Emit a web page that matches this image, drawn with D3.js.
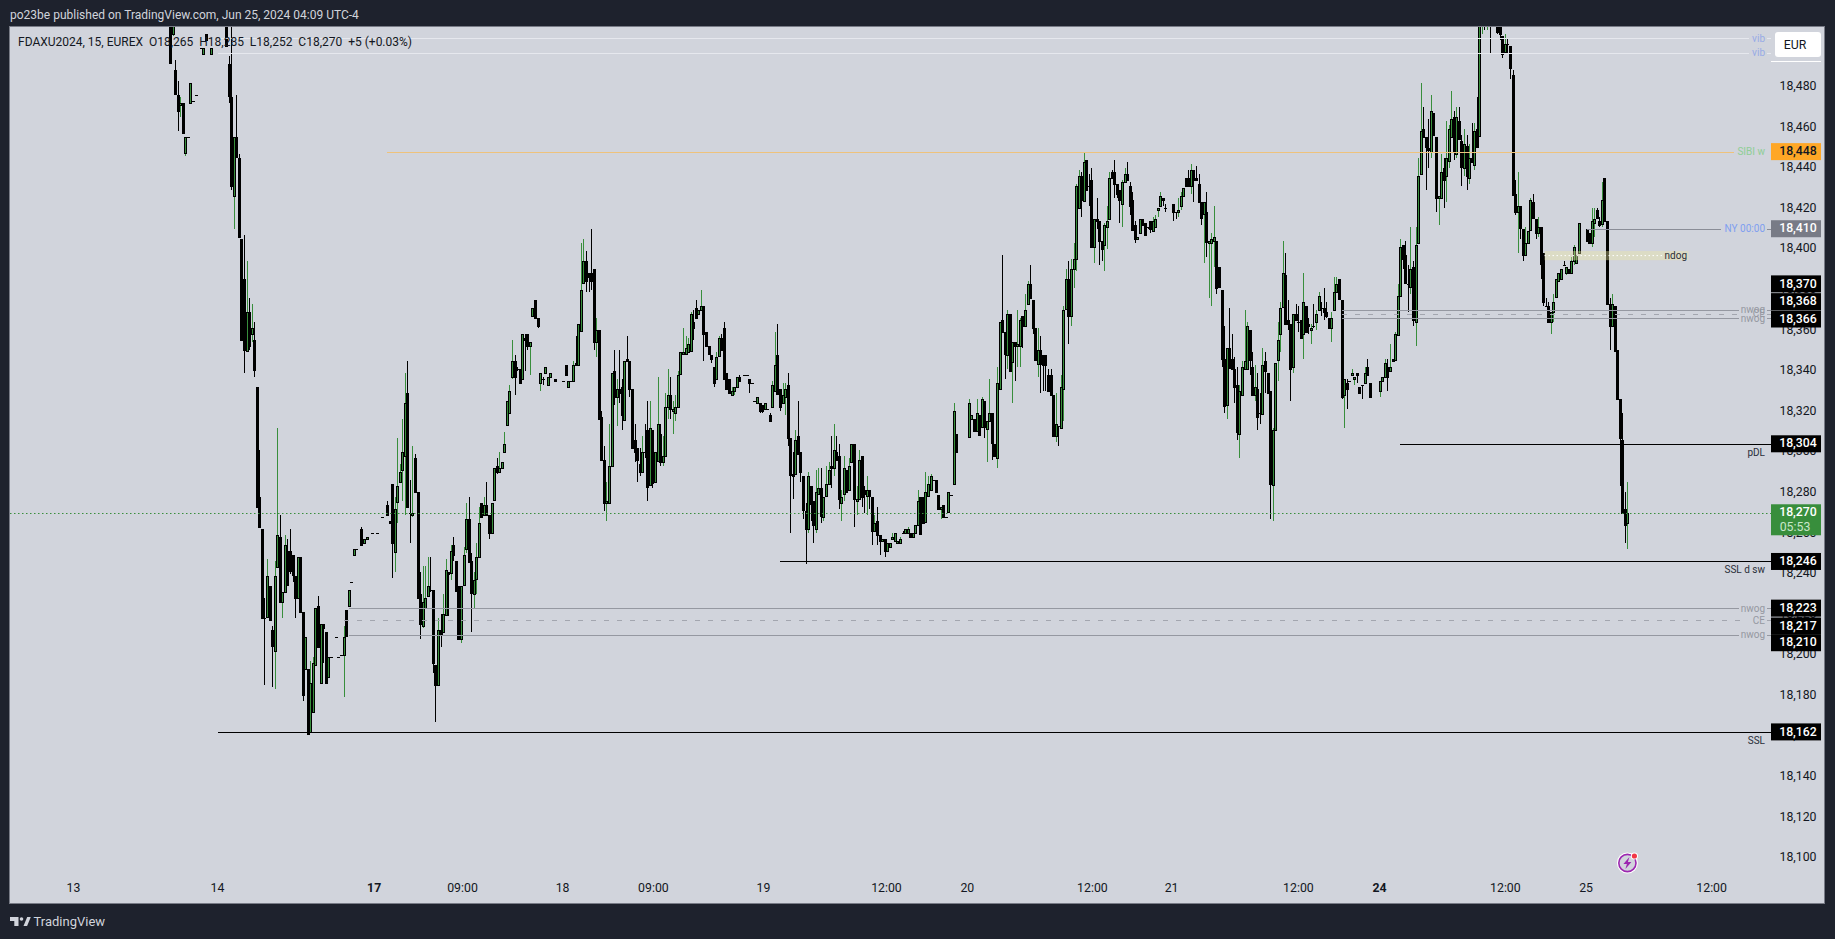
<!DOCTYPE html>
<html>
<head>
<meta charset="utf-8">
<script src="https://cdn.jsdelivr.net/npm/d3@7"></script>
<style>
html,body{margin:0;padding:0;background:#1e222d;overflow:hidden}
svg{display:block}
text{font-family:Roboto,"Liberation Sans",sans-serif}
</style>
</head>
<body>
<script>
// candle values: [open, high, low, close] minus priceBase; null = no trades in that 15 minute slot
const priceBase = 18000;
const jun13 = [[515,520,492,492],[506,520,505,515],[488,493,476,476],[476,483,458,468],[471,475,465,472],[472,472,457,457],[447,455,446,455],[455,455,455,455],[472,482,472,482],[473,473,473,473],[476,476,476,476],null,[499,499,499,499],[496,499,496,499],[506,506,503,503],null,[496,499,496,499]];
const jun14 = [[515,520,500,500],[491,495,472,475],[475,515,429,431],[426,455,410,455],[455,476,445,445],[445,447,406,406],[405,405,355,355],[385,407,339,350],[350,394,350,369],[369,376,350,352],[358,373,354,361],[355,364,337,340],[332,332,273,273],[278,301,263,263],[262,262,218,218],[218,228,185,218],[219,247,219,239],[234,234,217,217],[212,214,184,204],[202,246,183,239],[243,312,243,259],[258,269,226,226],[226,231,218,231],[231,259,231,254],[251,257,234,234],[251,262,240,241],[249,249,236,239],[239,239,218,228],[228,248,228,248],[248,248,221,221],[221,221,177,180],[193,209,193,209],[193,193,161,161],[162,197,162,186],[172,199,172,196],[195,223,195,223],[224,229,204,204],[186,215,186,215],[215,215,196,213],[211,211,186,186],[189,199,189,199],[199,199,199,199],null,[209,209,209,209],[199,199,199,199],[200,200,200,200],[200,214,179,209],[222,222,209,209],[224,232,224,232],[236,236,236,236],[249,252,249,252],[252,252,252,252],null,[262,263,254,254],[255,257,255,257],[257,258,257,258],null,[260,260,260,260]];
const jun17 = [[260,260,260,260],null,[268,268,268,268],null,[274,276,269,269],[266,266,265,265],[284,284,238,255],[251,278,241,272],[275,307,265,283],[285,294,285,290],[291,316,276,300],[298,339,269,324],[329,345,273,273],[270,286,255,270],[269,303,268,270],[297,299,280,280],[280,280,228,228],[230,241,208,215],[214,244,213,226],[223,244,223,228],[229,248,229,234],[232,248,231,232],[232,232,191,196],[195,195,167,185],[185,218,185,212],[212,220,204,210],[211,230,211,220],[220,247,220,242],[241,241,219,240],[240,254,237,251],[254,258,246,249],[246,246,231,231],[234,234,208,208],[208,234,206,234],[234,253,234,249],[252,275,250,267],[267,278,246,246],[246,250,211,230],[230,241,223,237],[237,255,230,248],[248,273,248,265],[275,275,268,268],[269,278,269,274],[274,285,269,269],[269,269,257,260],[260,275,260,275],[276,292,276,292],[293,297,289,290],[290,300,290,292],[292,295,292,295],[300,310,300,304],[313,325,313,325],[319,333,319,330],[337,355,336,345],[345,348,328,337],[341,342,340,341],[341,341,334,334],[336,358,336,358],[356,358,340,355],[358,358,350,352],[352,354,338,354],[367,371,367,371],[375,375,366,366],[366,366,361,362],[334,339,330,339],[336,337,333,336],[339,342,339,342],[333,337,333,337],[337,339,337,339],null,[336,336,335,335]];
const jun18 = [[335,335,335,335],[343,343,338,338],[332,335,332,335],[335,335,335,335],[335,345,335,343],[344,357,343,343],[343,363,343,363],[360,403,360,380],[383,405,383,394],[394,399,379,384],[388,388,379,386],[388,410,380,384],[390,390,350,354],[354,366,347,360],[360,360,316,316],[317,320,296,296],[296,303,271,275],[275,285,266,276],[275,314,275,293],[293,339,293,339],[340,350,323,327],[327,336,313,331],[331,350,324,329],[332,336,311,318],[316,345,316,345],[346,357,345,345],[345,345,327,331],[331,331,302,302],[306,314,295,300],[302,302,285,296],[294,302,288,290],[290,308,290,300],[300,314,297,300],[311,325,276,283],[284,325,284,312],[311,311,282,285],[285,300,285,300],[296,337,296,314],[309,314,293,295],[295,308,293,298],[298,329,298,322],[322,341,316,328],[328,337,316,321],[320,325,309,321],[319,328,315,322],[322,340,322,338],[338,349,338,349],[348,361,348,349],[348,357,348,351],[349,356,349,353],[350,369,350,368],[364,370,355,361],[371,375,366,366],[368,370,368,370],[370,380,370,372],[372,372,345,358],[359,359,352,352],[352,352,348,348],[348,348,344,346],[342,342,332,334],[336,349,336,347],[347,357,347,356],[356,358,350,350],[361,364,336,336],[339,339,331,331],[336,336,329,329],[328,332,328,330],[330,332,328,332],[332,337,332,337],[337,338,335,335],null,[338,338,338,338],[338,338,338,338],[336,336,329,334],[334,334,334,334],[325,325,325,325],[324,327,324,327],[324,324,319,320],[323,323,319,320]];
const jun19 = [[321,324,321,324],[321,321,321,321],[318,319,315,315],[322,335,322,333],[330,359,330,343],[348,363,329,329],[331,331,320,322],[324,334,324,328],[327,334,318,331],[333,339,303,307],[307,307,260,289],[289,300,277,288],[289,311,289,306],[308,325,299,299],[300,300,285,290],[288,288,267,271],[271,275,245,262],[262,290,260,288],[283,283,266,274],[276,276,255,264],[262,291,260,280],[279,292,279,282],[282,292,265,268],[268,278,266,278],[278,293,278,284],[284,295,284,291],[293,308,282,292],[292,314,288,301],[300,308,296,296],[298,304,272,277],[275,281,266,278],[279,298,276,292],[291,291,280,280],[281,297,281,293],[295,304,295,304],[304,304,263,277],[276,283,269,277],[277,301,277,296],[298,298,273,278],[281,283,270,279],[278,288,269,281],[281,281,272,278],[278,278,254,261],[261,269,261,265],[266,273,254,259],[259,259,249,256],[256,257,256,257],[257,257,248,251],[251,255,251,255],[253,255,253,255],[257,260,257,258],[256,260,256,260],[255,256,255,256],[255,258,255,257],[260,261,260,260],[260,262,260,262],[260,263,260,262],[260,260,258,258],[258,260,258,260],[260,264,260,264],[264,281,264,276],[278,278,260,260],[278,278,265,265],[265,290,265,280],[278,288,278,284],[281,289,281,288],[286,286,286,286],[286,286,280,280],[279,279,272,272],[272,273,267,273],[274,274,268,268],[268,268,268,268],[270,280,270,280],[279,279,279,279],[284,324,284,320],[309,309,300,300]];
const jun20 = [[307,326,307,324],[316,318,316,318],[316,316,310,310],[310,326,310,319],[318,318,308,308],[312,327,312,326],[325,325,307,312],[311,315,295,315],[315,336,315,319],[319,319,296,304],[304,304,298,298],[297,342,292,334],[331,364,331,364],[365,397,359,359],[359,359,336,348],[348,370,341,368],[368,368,340,340],[344,354,324,354],[354,354,335,352],[352,370,342,353],[352,366,342,365],[367,367,351,362],[362,378,362,370],[373,384,373,383],[383,392,376,376],[375,375,358,361],[361,361,345,345],[343,361,337,350],[350,357,329,343],[348,348,330,343],[348,348,330,343],[338,341,330,330],[338,341,328,328],[328,328,308,308],[308,329,305,314],[313,313,303,313],[312,338,312,332],[331,372,315,370],[370,390,370,385],[385,394,353,367],[367,395,362,390],[390,403,381,395],[395,432,389,431],[420,439,420,436],[436,438,416,424],[424,448,424,443],[444,444,429,429],[431,437,421,431],[434,440,401,401],[401,415,393,415],[415,425,410,414],[414,414,392,404],[404,404,394,400],[402,413,389,412],[411,421,400,414],[415,438,415,435],[438,439,435,435],[438,444,425,432],[432,432,425,427],[429,429,413,424],[422,434,411,433],[433,440,433,437],[437,443,434,434],[431,433,417,421],[424,428,409,409],[412,414,403,405],[405,406,405,406],[408,415,408,415],[415,415,412,412],[413,413,407,407],[411,411,410,411],[414,414,408,410],[409,416,409,414],[411,417,411,415],[419,420,416,420],[421,428,421,426],[425,425,421,424],[420,422,418,420]];
const jun21 = [[422,422,414,418],[418,418,415,418],[418,425,416,419],[421,428,419,426],[426,430,426,430],[435,435,431,431],[435,439,431,431],[431,442,427,439],[439,439,423,434],[435,441,434,434],[432,437,423,423],[423,423,412,415],[417,423,393,423],[418,428,396,403],[403,404,376,404],[403,408,372,405],[404,421,391,406],[404,404,378,381],[391,391,381,381],[380,380,342,346],[346,362,319,323],[323,351,316,351],[351,371,341,341],[346,358,341,341],[341,347,324,332],[333,342,306,310],[309,333,297,330],[328,345,328,342],[341,370,341,345],[341,364,341,362],[360,360,338,345],[342,349,328,328],[328,343,325,332],[331,339,311,317],[319,329,314,319],[319,351,319,343],[345,349,329,340],[339,339,329,329],[330,330,267,284],[284,312,266,311],[311,344,311,344],[345,364,335,355],[358,374,349,371],[371,404,371,388],[387,398,363,363],[365,375,360,363],[363,363,325,341],[342,368,339,368],[368,373,365,365],[364,372,359,364],[365,365,356,356],[358,388,346,374],[372,372,359,359],[363,366,358,362],[360,363,353,361],[362,373,361,362],[364,370,360,368],[370,379,370,377],[371,374,367,371],[371,381,365,369],[369,374,366,367],[366,366,361,361],[361,369,354,366],[370,386,370,379],[379,386,379,383],[385,385,375,375],[375,375,326,327],[328,336,312,336],[334,336,321,331],[335,335,335,335],[338,341,338,339],[336,337,333,337],[339,339,334,338],[332,332,329,329],[333,333,326,333],[334,342,334,339],[342,346,338,338],[334,334,327,327]];
const jun24 = [[330,335,327,335],[335,337,335,337],[337,346,337,344],[342,346,330,337],[340,353,340,342],[346,346,345,345],[345,359,345,358],[358,383,358,377],[377,405,377,401],[402,402,390,395],[397,404,383,383],[383,392,369,383],[381,411,378,390],[391,394,362,365],[364,411,352,402],[403,445,403,436],[437,482,437,458],[459,470,455,455],[455,455,429,450],[450,464,440,449],[448,476,445,468],[467,467,456,456],[455,455,418,425],[425,426,412,426],[425,447,425,438],[440,445,420,434],[436,463,423,445],[443,461,440,459],[455,478,455,464],[465,468,444,448],[447,470,445,465],[463,470,454,454],[453,456,431,440],[440,459,436,452],[451,456,429,436],[435,452,432,445],[445,462,443,443],[441,462,439,458],[459,475,450,450],[456,520,456,515],[510,520,506,518],[520,520,508,516],[512,520,508,516],[520,522,496,515],[522,525,515,520],[520,525,512,518],[515,520,506,507],[515,515,503,506],[505,505,494,496],[497,506,497,501],[501,504,496,501],[500,500,484,489],[486,488,427,427],[427,434,417,418],[418,438,398,421],[421,421,405,410],[410,410,394,397],[397,411,397,403],[403,409,403,409],[409,425,409,424],[423,427,415,415],[415,415,405,408],[408,416,406,411],[411,411,385,393],[398,398,372,374],[372,376,372,372],[372,374,364,364],[364,369,358,369],[369,378,364,374],[376,385,376,385],[384,388,384,388],[385,390,385,390],[392,394,392,392],[388,391,387,391],[390,390,388,388],[388,396,388,394],[394,402,392,401],[393,397,393,397],[398,413,398,413]];
const jun25 = [[410,410,404,404],[408,408,403,403],[403,420,401,414],[413,420,406,415],[419,420,415,415],[414,416,411,412],[412,433,411,424],[435,435,414,414],[414,414,373,373],[373,376,350,362],[362,378,362,373],[372,372,350,350],[350,350,326,326],[326,326,283,307],[306,319,270,270],[272,280,255,264],[265,285,252,270]];
const sessionBars = [jun13, jun14, jun17, jun18, jun19, jun20, jun21, jun24, jun25];
const sessionStartSlots = [0, 22, 81, 154, 233, 313, 393, 474, 555];
const lastSlot = 571;

const timeLabels = ["13","14","17","09:00","18","09:00","19","12:00","20","12:00","21","12:00","24","12:00","25","12:00"];
const timeSlots = [-38,18.4,79.8,114.4,153.6,189.2,232.3,280.5,312.2,361.2,392.2,441.9,473.7,523,554.6,603.8];
const boldTimeLabels = ["17","24"];

const priceTicks = [18100,18120,18140,18160,18180,18200,18220,18240,18260,18280,18300,18320,18340,18360,18380,18400,18420,18440,18460,18480];

const levelNames  = ["vib","vib","SIBI w","NY 00:00","nwog","CE","nwog","pDL","SSL d sw","nwog","CE","nwog","SSL"];
const levelPrices = [18503.8,18496.8,18448,18410,18370,18368,18366,18304,18246,18223,18217,18210,18162];
const levelStartSlots = [19,19,85,555,459,459,459,482,239,70,68,70,19];

const tagPrices = [18448,18410,18370,18368,18366,18304,18270,18246,18223,18217,18210,18162];
const tagKinds  = ["orange","gray","black","black","black","black","green","black","black","black","black","black"];
const lastPrice = 18270;
const countdown = "05:53";
const ndogPrices = [18394.5,18399];

const W=1835,H=939;
const pane={l:10,t:27,r:1824,b:903,axis:1771};
const svg=d3.select("body").append("svg").attr("width",W).attr("height",H);
const x=d3.scaleLinear().domain([0,lastSlot]).range([170,1627.4]);
const y=d3.scaleLinear().domain([18100,18480]).range([857.7,86.7]);

svg.append("rect").attr("width",W).attr("height",H).attr("fill","#1e222d");
svg.append("rect").attr("x",pane.l-.5).attr("y",pane.t-.5).attr("width",pane.r-pane.l+1).attr("height",pane.b-pane.t+1)
  .attr("fill","#d1d4dc").attr("stroke","#787b86");
svg.append("defs").append("clipPath").attr("id","pane").append("rect")
  .attr("x",pane.l).attr("y",pane.t).attr("width",pane.axis-pane.l).attr("height",pane.b-pane.t);

svg.append("text").attr("x",10).attr("y",19).attr("fill","#d1d4dc").attr("font-size",12)
  .text("po23be published on TradingView.com, Jun 25, 2024 04:09 UTC-4");

// candles
const bars=[];
sessionBars.forEach((s,k)=>s.forEach((b,i)=>{ if(b) bars.push({slot:sessionStartSlots[k]+i,o:b[0]+priceBase,h:b[1]+priceBase,l:b[2]+priceBase,c:b[3]+priceBase}); }));
const chart=svg.append("g").attr("clip-path","url(#pane)");
const cx=d=>Math.round(x(d.slot));
chart.selectAll("line.w").data(bars).join("line").attr("class","w")
  .attr("x1",d=>cx(d)+.5).attr("x2",d=>cx(d)+.5).attr("y1",d=>y(d.h)).attr("y2",d=>y(d.l))
  .attr("stroke",d=>d.c>d.o?"#388e3c":"#000").attr("stroke-width",1).attr("shape-rendering","crispEdges");
chart.selectAll("rect.b").data(bars).join("rect").attr("class","b")
  .attr("x",d=>cx(d)-.5).attr("width",2)
  .attr("y",d=>Math.round(y(Math.max(d.o,d.c)))+.5)
  .attr("height",d=>Math.max(0.01,Math.round(Math.abs(y(d.o)-y(d.c)))))
  .attr("fill",d=>d.c>d.o?"#388e3c":"#000").attr("stroke","#000").attr("stroke-width",1)
  .attr("shape-rendering","crispEdges");

// horizontal levels
const lineEnd=[1749,1749,1734,1721,1739,1745,1739,1771,1771,1739,1745,1739,1771];
const lineColor=["#e6e8ee","#e6e8ee","#eec27c","#8a8d97","#9598a1","#a3a6af","#9598a1","#000","#000","#9598a1","#a3a6af","#9598a1","#000"];
const lineDash=[0,0,0,0,0,1,0,0,0,0,1,0,0];
const lineWidth=[1,1,1,1,1,1,1,1.3,1.3,1,1,1,1.3];
const labelColor=["#98abe6","#98abe6","#8fce96","#7f9ff0","#9598a1","#9598a1","#9598a1","#2a2e39","#2a2e39","#9598a1","#9598a1","#9598a1","#2a2e39"];
const labelDy=[3.5,3.5,3.5,3.5,3.5,3.5,3.5,12,12,3.5,3.5,3.5,12];
const levels=levelNames.map((n,i)=>({n,p:levelPrices[i],s:levelStartSlots[i],i}));
const lv=svg.append("g");
lv.selectAll("line.lvl").data(levels).join("line").attr("class","lvl")
  .attr("x1",d=>x(d.s)).attr("x2",d=>lineEnd[d.i])
  .attr("y1",d=>Math.round(y(d.p))+.5).attr("y2",d=>Math.round(y(d.p))+.5)
  .attr("stroke",d=>lineColor[d.i]).attr("stroke-width",d=>lineWidth[d.i])
  .attr("stroke-dasharray",d=>lineDash[d.i]?"5 8":null).attr("shape-rendering","crispEdges");
lv.selectAll("line.stub").data(levels.filter(d=>lineEnd[d.i]<1771&&d.i!==2)).join("line").attr("class","stub")
  .attr("x1",1767).attr("x2",1771)
  .attr("y1",d=>Math.round(y(d.p))+.5).attr("y2",d=>Math.round(y(d.p))+.5)
  .attr("stroke",d=>lineColor[d.i]).attr("shape-rendering","crispEdges");
lv.selectAll("text").data(levels).join("text")
  .attr("x",1765).attr("y",d=>y(d.p)+labelDy[d.i]).attr("text-anchor","end").attr("font-size",10)
  .attr("fill",d=>labelColor[d.i]).text(d=>d.n);

// ndog zone
svg.append("rect").attr("x",1544.5).attr("width",144).attr("y",y(ndogPrices[1])).attr("height",y(ndogPrices[0])-y(ndogPrices[1]))
  .attr("fill","#efe9a0").attr("fill-opacity",.38);
svg.append("line").attr("x1",1544.5).attr("x2",1662).attr("y1",y((ndogPrices[0]+ndogPrices[1])/2)).attr("y2",y((ndogPrices[0]+ndogPrices[1])/2))
  .attr("stroke","#fff").attr("stroke-dasharray","1.5 2.5").attr("stroke-width",1);
svg.append("text").attr("x",1687).attr("y",y((ndogPrices[0]+ndogPrices[1])/2)+3.5).attr("text-anchor","end").attr("font-size",10).attr("fill","#2a2e39").text("ndog");

// last price line
svg.append("line").attr("x1",pane.l).attr("x2",pane.axis).attr("y1",Math.round(y(lastPrice))+.5).attr("y2",Math.round(y(lastPrice))+.5)
  .attr("stroke","#388e3c").attr("stroke-dasharray","1.5 2.5").attr("stroke-width",1);

// legend
svg.append("text").attr("x",18).attr("y",46).attr("fill","#131722").attr("font-size",12).attr("xml:space","preserve").style("white-space","pre")
  .text("FDAXU2024, 15, EUREX  O18,265  H18,285  L18,252  C18,270  +5 (+0.03%)");

// axes
const yAxis=d3.axisRight(y).tickValues(priceTicks).tickSize(0).tickFormat(d3.format(","));
const ya=svg.append("g").attr("transform",`translate(${pane.axis},-1)`).call(yAxis);
ya.select(".domain").remove();
ya.selectAll("text").attr("x",27).attr("text-anchor","middle").attr("font-size",12.3).attr("font-family","Roboto").attr("fill","#131722");

const xAxis=d3.axisBottom(x).tickValues(timeSlots).tickSize(0).tickFormat((d,i)=>timeLabels[i]);
const xa=svg.append("g").attr("transform","translate(0,880)").call(xAxis);
xa.select(".domain").remove();
xa.selectAll("text").attr("font-size",12.3).attr("font-family","Roboto").attr("fill","#131722")
  .attr("font-weight",(d,i)=>boldTimeLabels.includes(timeLabels[i])?"700":"400");

// price tags
const tagFill={orange:"#ffa726",gray:"#787b86",black:"#000",green:"#388e3c"};
const tagShift=[0,0,-26,-12.3,1,0,0,0,0,5.7,8.2,0];
const tags=svg.append("g");
tagPrices.forEach((p,i)=>{
  const cy=y(p)+tagShift[i], isLast=tagKinds[i]==="green";
  tags.append("rect").attr("x",pane.axis).attr("y",cy-8.5).attr("width",50).attr("height",isLast?31:17).attr("fill",tagFill[tagKinds[i]]);
  tags.append("text").attr("x",1798).attr("y",cy+3.7).attr("text-anchor","middle").attr("font-size",12.3).attr("font-weight",500)
    .attr("fill",tagKinds[i]==="orange"?"#131722":"#fff").text(d3.format(",")(p));
  if(isLast) tags.append("text").attr("x",1795).attr("y",cy+18).attr("text-anchor","middle").attr("font-size",12.3).attr("fill","#c8e6c9").text(countdown);
});

// currency button
svg.append("rect").attr("x",1775).attr("y",32).attr("width",46).attr("height",25).attr("rx",3).attr("fill","#fff");
svg.append("text").attr("x",1795).attr("y",49).attr("text-anchor","middle").attr("font-size",12.3).attr("fill","#131722").text("EUR");
svg.append("line").attr("x1",1771).attr("x2",1821).attr("y1",61.5).attr("y2",61.5).attr("stroke","#fff");

// alert badge
const bx=1627.4,by=863;
svg.append("circle").attr("cx",bx).attr("cy",by).attr("r",10.5).attr("fill","#fff");
svg.append("circle").attr("cx",bx).attr("cy",by).attr("r",8.6).attr("fill","#d1d4dc").attr("stroke","#9c27b0").attr("stroke-width",1.6);
svg.append("path").attr("d",`M${bx+2},${by-6} L${bx-4},${by+1} L${bx-.5},${by+1} L${bx-2},${by+6} L${bx+4},${by-1} L${bx+.5},${by-1} Z`).attr("fill","#9c27b0");
svg.append("circle").attr("cx",bx+7).attr("cy",by-7).attr("r",3.6).attr("fill","#fff");
svg.append("circle").attr("cx",bx+7).attr("cy",by-7).attr("r",2.6).attr("fill","#f23645");

// footer logo
svg.append("path").attr("d","M10,917 h8.5 v9 h-4.2 v-5 h-4.3 Z M23.5,926 l3.7,-9 h3.6 l-3.7,9 Z").attr("fill","#d1d4dc");
svg.append("circle").attr("cx",21.5).attr("cy",919).attr("r",1.8).attr("fill","#d1d4dc");
svg.append("text").attr("x",33.5).attr("y",925.5).attr("font-size",13).attr("fill","#d1d4dc").text("TradingView");
</script>
</body>
</html>
